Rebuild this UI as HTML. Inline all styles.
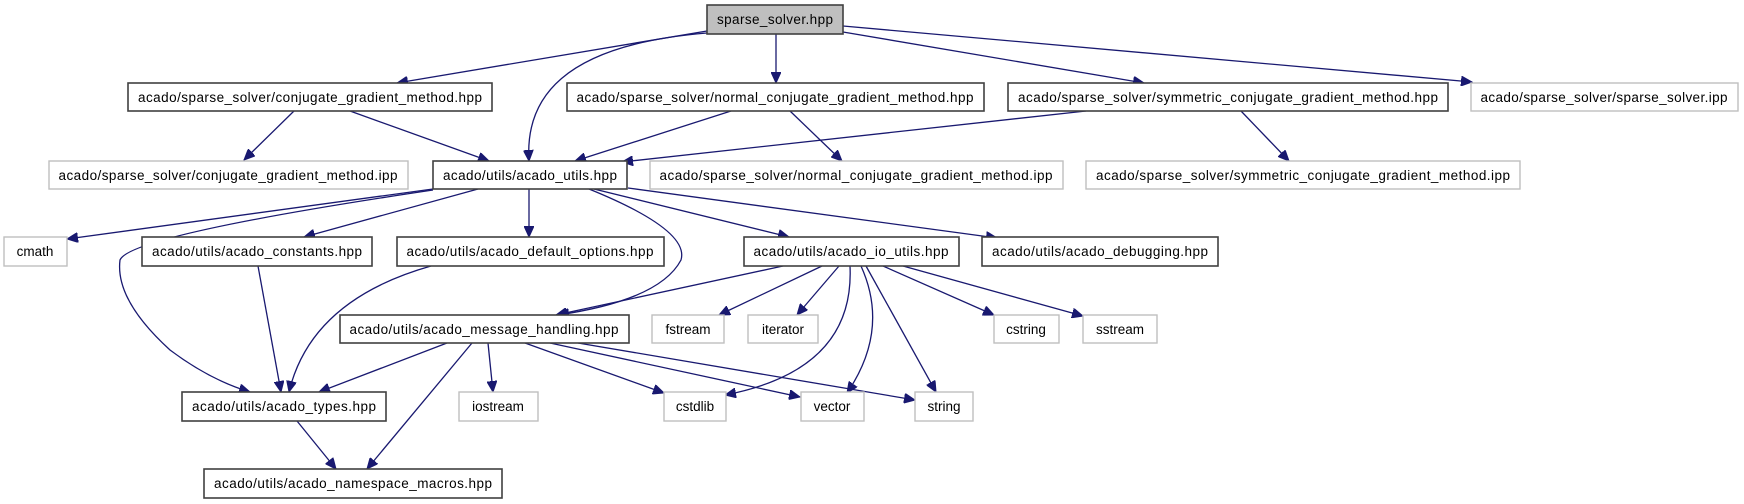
<!DOCTYPE html>
<html><head><meta charset="utf-8"><style>
html,body{margin:0;padding:0;background:#fff;}
svg{display:block;}
text{font-family:"Liberation Sans",sans-serif;font-size:13.5px;fill:#000;}
.b{fill:#fff;stroke:#404040;stroke-width:1.6;}
.g{fill:#fff;stroke:#bfbfbf;stroke-width:1.4;}
.e{fill:none;stroke:#191970;stroke-width:1.3;}
</style></head><body>
<svg width="1744" height="504" viewBox="0 0 1744 504" xmlns="http://www.w3.org/2000/svg">
<defs>
<marker id="a" markerUnits="userSpaceOnUse" markerWidth="12" markerHeight="10" refX="11" refY="5" orient="auto">
<path d="M0,0 L11,5 L0,10 Z" fill="#191970" stroke="#191970"/>
</marker>
</defs>
<g marker-end="url(#a)">
<path class="e" d="M707,31 L397,83"/>
<path class="e" d="M707,33 C560,45 525,100 529,161"/>
<path class="e" d="M776,34 L776,83"/>
<path class="e" d="M843,32 L1144,83"/>
<path class="e" d="M843,26 L1472,82"/>
<path class="e" d="M294,111 L244,160"/>
<path class="e" d="M350,111 L489,161"/>
<path class="e" d="M731,111 L575,161"/>
<path class="e" d="M790,111 L842,161"/>
<path class="e" d="M1086,111 L622,162"/>
<path class="e" d="M1241,111 L1289,161"/>
<path class="e" d="M433,189 L67,239"/>
<path class="e" d="M433,190 Q130,235 120,260 Q115,300 170,350 Q210,380 250,392"/>
<path class="e" d="M478,189 L304,237"/>
<path class="e" d="M529,189 L529,237"/>
<path class="e" d="M589,189 Q690,230 681,260 Q660,300 558,315"/>
<path class="e" d="M594,189 L789,237"/>
<path class="e" d="M628,188 L997,238"/>
<path class="e" d="M258,266 L281,392"/>
<path class="e" d="M431,266 Q311,300 289,392"/>
<path class="e" d="M783,266 L556,315"/>
<path class="e" d="M822,266 L719,315"/>
<path class="e" d="M839,266 L797,315"/>
<path class="e" d="M850,266 Q855,370 725,395"/>
<path class="e" d="M861,266 Q890,330 847,393"/>
<path class="e" d="M866,266 L936,392"/>
<path class="e" d="M883,266 L994,315"/>
<path class="e" d="M903,266 L1083,316"/>
<path class="e" d="M447,343 L319,392"/>
<path class="e" d="M472,343 L367,469"/>
<path class="e" d="M488,343 L493,392"/>
<path class="e" d="M525,343 L664,393"/>
<path class="e" d="M550,343 L800,397"/>
<path class="e" d="M578,343 L915,400"/>
<path class="e" d="M297,421 L336,469"/>
</g>
<rect x="707" y="5" width="136" height="29" fill="#bfbfbf" stroke="#404040" stroke-width="1.6"/>
<text x="775" y="24" text-anchor="middle" textLength="116">sparse_solver.hpp</text>

<rect class="b" x="128" y="83" width="364" height="28"/><text x="310" y="102" text-anchor="middle" textLength="344">acado/sparse_solver/conjugate_gradient_method.hpp</text>
<rect class="b" x="567" y="83" width="417" height="28"/><text x="775" y="102" text-anchor="middle" textLength="397">acado/sparse_solver/normal_conjugate_gradient_method.hpp</text>
<rect class="b" x="1008" y="83" width="440" height="28"/><text x="1228" y="102" text-anchor="middle" textLength="420">acado/sparse_solver/symmetric_conjugate_gradient_method.hpp</text>
<rect class="g" x="1471" y="83" width="267" height="28"/><text x="1604" y="102" text-anchor="middle" textLength="247">acado/sparse_solver/sparse_solver.ipp</text>

<rect class="g" x="49" y="161" width="359" height="28"/><text x="228" y="180" text-anchor="middle" textLength="339">acado/sparse_solver/conjugate_gradient_method.ipp</text>
<rect class="b" x="433" y="161" width="194" height="28"/><text x="530" y="180" text-anchor="middle" textLength="174">acado/utils/acado_utils.hpp</text>
<rect class="g" x="650" y="161" width="413" height="28"/><text x="856" y="180" text-anchor="middle" textLength="393">acado/sparse_solver/normal_conjugate_gradient_method.ipp</text>
<rect class="g" x="1086" y="161" width="434" height="28"/><text x="1303" y="180" text-anchor="middle" textLength="414">acado/sparse_solver/symmetric_conjugate_gradient_method.ipp</text>

<rect class="g" x="4" y="237" width="63" height="29"/><text x="35" y="256" text-anchor="middle">cmath</text>
<rect class="b" x="142" y="237" width="230" height="29"/><text x="257" y="256" text-anchor="middle" textLength="210">acado/utils/acado_constants.hpp</text>
<rect class="b" x="397" y="237" width="267" height="29"/><text x="530" y="256" text-anchor="middle" textLength="247">acado/utils/acado_default_options.hpp</text>
<rect class="b" x="744" y="237" width="215" height="29"/><text x="851" y="256" text-anchor="middle" textLength="195">acado/utils/acado_io_utils.hpp</text>
<rect class="b" x="982" y="237" width="236" height="29"/><text x="1100" y="256" text-anchor="middle" textLength="216">acado/utils/acado_debugging.hpp</text>

<rect class="b" x="340" y="315" width="289" height="28"/><text x="484" y="334" text-anchor="middle" textLength="269">acado/utils/acado_message_handling.hpp</text>
<rect class="g" x="652" y="315" width="72" height="28"/><text x="688" y="334" text-anchor="middle">fstream</text>
<rect class="g" x="748" y="315" width="70" height="28"/><text x="783" y="334" text-anchor="middle">iterator</text>
<rect class="g" x="994" y="315" width="65" height="28"/><text x="1026" y="334" text-anchor="middle">cstring</text>
<rect class="g" x="1083" y="315" width="74" height="28"/><text x="1120" y="334" text-anchor="middle">sstream</text>

<rect class="b" x="182" y="392" width="204" height="29"/><text x="284" y="411" text-anchor="middle" textLength="184">acado/utils/acado_types.hpp</text>
<rect class="g" x="459" y="392" width="79" height="29"/><text x="498" y="411" text-anchor="middle">iostream</text>
<rect class="g" x="664" y="392" width="62" height="29"/><text x="695" y="411" text-anchor="middle">cstdlib</text>
<rect class="g" x="801" y="392" width="63" height="29"/><text x="832" y="411" text-anchor="middle">vector</text>
<rect class="g" x="915" y="392" width="58" height="29"/><text x="944" y="411" text-anchor="middle">string</text>

<rect class="b" x="204" y="469" width="298" height="29"/><text x="353" y="488" text-anchor="middle" textLength="278">acado/utils/acado_namespace_macros.hpp</text>
</svg>
</body></html>
